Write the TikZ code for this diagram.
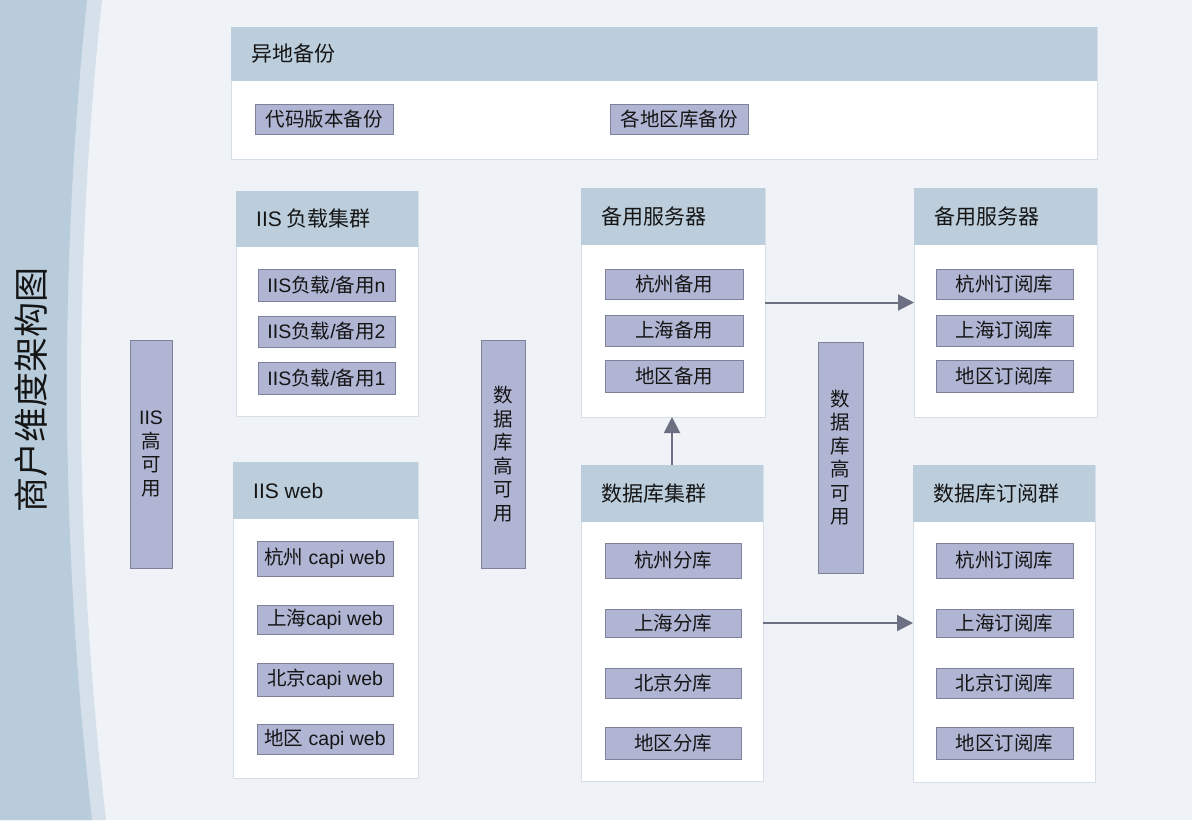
\documentclass[tikz,border=0pt]{standalone}
\usepackage{fontspec}
\setmainfont{Noto Sans CJK SC}
\newfontfamily\lat{Liberation Sans}
\usetikzlibrary{arrows.meta}
\definecolor{bgc}{HTML}{EFF3F7}
\definecolor{banddark}{HTML}{B9CCDC}
\definecolor{bandlight}{HTML}{D5E0EA}
\definecolor{hdr}{HTML}{BCCEDC}
\definecolor{grpline}{HTML}{D6DFE8}
\definecolor{itemfill}{HTML}{B0B5D4}
\definecolor{itemline}{HTML}{7E8198}
\definecolor{arrc}{HTML}{6D7083}
\definecolor{txt}{HTML}{151515}
% name, x1, y1, x2, y-header-bottom, y2, title
\newcommand\Grp[7]{%
  \node[group, minimum width={#4-#2}, minimum height={#6-#3}] (#1) at (#2,#3) {};
  \node[header, minimum width={#4-#2}, minimum height={#5-#3}] (#1h) at (#2,#3) {};
  \node[htext] (#1t) at ({#2+20},{(#3+#5)/2}) {#7};}
\newcommand\It[6]{%
  \node[item, minimum width={#4-#2}, minimum height={#5-#3}] (#1) at (#2,#3) {#6};}
\begin{document}
\begin{tikzpicture}[x=1pt,y=-1pt,
  group/.style={draw=grpline, fill=white, line width=1pt, anchor=north west, inner sep=0pt, outer sep=0pt},
  header/.style={fill=hdr, anchor=north west, inner sep=0pt, outer sep=0pt},
  htext/.style={anchor=west, inner sep=0pt, text=txt, font=\fontsize{21}{24}\selectfont},
  item/.style={draw=itemline, fill=itemfill, line width=1pt, anchor=north west, inner sep=0pt, outer sep=0pt, text=txt, font=\fontsize{19.5}{23.5}\selectfont, align=center},
  arr/.style={draw=arrc, line width=2pt, -{Triangle[length=16pt,width=16pt]}}]
\useasboundingbox (0,0) rectangle (1192,820);
\fill[bgc] (0,0) rectangle (1192,820);
\fill[bandlight] (0,0) -- (102,0) .. controls (72.7,270.7) and (74,544) .. (106,820) -- (0,820) -- cycle;
\fill[banddark] (0,0) -- (87,0) .. controls (58.7,270.7) and (60.3,544) .. (92,820) -- (0,820) -- cycle;
\node[rotate=90, text=txt, font=\fontsize{35}{40}\selectfont, inner sep=0pt] (title) at (31,390) {商户维度架构图};

% top group
\Grp{g0}{231}{27}{1097}{81}{159}{异地备份}
\It{a1}{255}{104}{393}{134}{代码版本备份}
\It{a2}{610}{104}{748}{134}{各地区库备份}

% IIS load cluster
\Grp{g1}{236}{191}{418}{247}{416}{{\lat IIS} 负载集群}
\It{b1}{258}{269}{395}{301}{{\lat IIS}负载{\lat /}备用{\lat n}}
\It{b2}{258}{316}{395}{347}{{\lat IIS}负载{\lat /}备用{\lat 2}}
\It{b3}{258}{362}{395}{394}{{\lat IIS}负载{\lat /}备用{\lat 1}}

% IIS web
\Grp{gw}{233}{462}{418}{519}{778}{{\lat IIS web}}
\It{w1}{257}{541}{393}{576}{杭州{\lat\ capi web}}
\It{w2}{257}{605}{393}{634}{上海{\lat capi web}}
\It{w3}{257}{663}{393}{696}{北京{\lat capi web}}
\It{w4}{257}{724}{393}{754}{地区{\lat\ capi web}}

% vertical boxes
\It{v1}{130}{340}{172}{568}{{\lat IIS}\\高\\可\\用}
\It{v2}{481}{340}{525}{568}{数\\据\\库\\高\\可\\用}
\It{v3}{818}{342}{863}{573}{数\\据\\库\\高\\可\\用}

% middle backup servers
\Grp{g2}{581}{188}{765}{245}{417}{备用服务器}
\It{c1}{605}{269}{743}{299}{杭州备用}
\It{c2}{605}{315}{743}{346}{上海备用}
\It{c3}{605}{360}{743}{392}{地区备用}

% right backup servers
\Grp{g3}{914}{188}{1097}{245}{417}{备用服务器}
\It{d1}{936}{269}{1073}{299}{杭州订阅库}
\It{d2}{936}{315}{1073}{346}{上海订阅库}
\It{d3}{936}{360}{1073}{392}{地区订阅库}

% database cluster
\Grp{g4}{581}{465}{763}{522}{781}{数据库集群}
\It{e1}{605}{543}{741}{578}{杭州分库}
\It{e2}{605}{609}{741}{637}{上海分库}
\It{e3}{605}{668}{741}{698}{北京分库}
\It{e4}{605}{727}{741}{759}{地区分库}

% subscription cluster
\Grp{g5}{913}{465}{1095}{522}{782}{数据库订阅群}
\It{f1}{936}{543}{1073}{578}{杭州订阅库}
\It{f2}{936}{609}{1073}{637}{上海订阅库}
\It{f3}{936}{668}{1073}{698}{北京订阅库}
\It{f4}{936}{727}{1073}{759}{地区订阅库}

% arrows
\draw[arr] (g2.east) -- (g2.east -| g3.west);
\draw[arr] (g4.east) -- (g4.east -| g5.west);
\draw[arr] (g4.north) -- (g4.north |- g2.south);
\end{tikzpicture}
\end{document}
